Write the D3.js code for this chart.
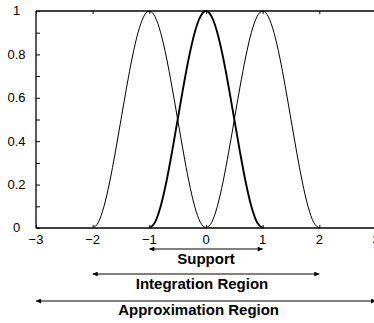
<!DOCTYPE html>
<html>
<head>
<meta charset="utf-8">
<script src="https://cdn.jsdelivr.net/npm/d3@7"></script>
<style>
  html, body { margin: 0; padding: 0; background: #fff; }
  svg { display: block; }
  text { font-family: "Liberation Sans", Arial, Helvetica, sans-serif; fill: #000; }
</style>
</head>
<body>
<svg id="chart" width="374" height="323"></svg>
<script>
// ---- data ----
const xTickValues = [-3, -2, -1, 0, 1, 2, 3];
const xTickLabels = ["\u22123", "\u22122", "\u22121", "0", "1", "2", "3"];
const yTickValues = [0, 0.2, 0.4, 0.6, 0.8, 1];
const yTickLabels = ["0", "0.2", "0.4", "0.6", "0.8", "1"];
const yMinorTicks = [0, 0.1, 0.2, 0.3, 0.4, 0.5, 0.6, 0.7, 0.8, 0.9, 1];

// one basis function shape, sampled at offsets from its centre
const shapeOffsets = [-1, -0.9, -0.8, -0.7, -0.6, -0.5, -0.4, -0.3, -0.2, -0.1, 0, 0.1, 0.2, 0.3, 0.4, 0.5, 0.6, 0.7, 0.8, 0.9, 1];
const shapeValues  = [0, 0.026, 0.1, 0.212, 0.35, 0.5, 0.65, 0.788, 0.9, 0.974, 1, 0.974, 0.9, 0.788, 0.65, 0.5, 0.35, 0.212, 0.1, 0.026, 0];
const curveCenters = [-1, 0, 1];
const curveBold    = [false, true, false];

// annotation regions
const regionNames  = ["Support", "Integration Region", "Approximation Region"];
const regionStarts = [-1, -2, -3];
const regionEnds   = [1, 2, 3];
const regionLabelX = [0, -0.07, -0.13];

// ---- drawing ----
const svg = d3.select("#chart");
const x = d3.scaleLinear().domain([-3, 3]).range([36, 376]);
const y = d3.scaleLinear().domain([0, 1]).range([228, 11]);

// curves
const line = d3.line()
  .x(d => x(d[0]))
  .y(d => y(d[1]))
  .curve(d3.curveMonotoneX);

curveCenters.forEach((c, i) => {
  const pts = shapeOffsets.map((o, j) => [c + o, shapeValues[j]]);
  svg.append("path")
    .attr("d", line(pts))
    .attr("fill", "none")
    .attr("stroke", "#000")
    .attr("stroke-width", curveBold[i] ? 1.9 : 1);
});

// frame: left axis, bottom axis, top border
svg.append("line").attr("x1", x(-3)).attr("x2", x(-3)).attr("y1", y(0)).attr("y2", y(1))
  .attr("stroke", "#000").attr("stroke-width", 1.3);
svg.append("line").attr("x1", x(-3)).attr("x2", x(3)).attr("y1", y(0)).attr("y2", y(0))
  .attr("stroke", "#000").attr("stroke-width", 1.6);
svg.append("line").attr("x1", x(-3)).attr("x2", x(3)).attr("y1", y(1)).attr("y2", y(1))
  .attr("stroke", "#000").attr("stroke-width", 1.4);

// left axis: inward minor ticks + centered labels
const yAxis = d3.axisRight(y).tickValues(yMinorTicks).tickSize(4).tickFormat("");
const ga = svg.append("g").attr("transform", `translate(${x(-3)},0)`).call(yAxis);
ga.select(".domain").remove();
ga.selectAll("line").attr("stroke", "#000").attr("stroke-width", 1);

yTickValues.forEach((v, i) => {
  svg.append("text")
    .attr("x", 16.5).attr("y", y(v) + 4.3)
    .attr("text-anchor", "middle")
    .attr("font-size", 13)
    .text(yTickLabels[i]);
});

// top ticks (downward) and bottom ticks (upward)
const topAxis = d3.axisBottom(x).tickValues(xTickValues).tickSize(3).tickFormat("");
const gt = svg.append("g").attr("transform", `translate(0,${y(1)})`).call(topAxis);
gt.select(".domain").remove();
gt.selectAll("line").attr("stroke", "#000");

const botAxis = d3.axisTop(x).tickValues(xTickValues).tickSize(3).tickFormat("");
const gb = svg.append("g").attr("transform", `translate(0,${y(0)})`).call(botAxis);
gb.select(".domain").remove();
gb.selectAll("line").attr("stroke", "#000");

xTickValues.forEach((v, i) => {
  svg.append("text")
    .attr("x", x(v)).attr("y", 243.5)
    .attr("text-anchor", "middle")
    .attr("font-size", 13)
    .text(xTickLabels[i]);
});

// arrows
svg.append("defs").append("marker")
  .attr("id", "ah")
  .attr("viewBox", "0 0 10 10")
  .attr("refX", 10).attr("refY", 5)
  .attr("markerUnits", "userSpaceOnUse")
  .attr("markerWidth", 7).attr("markerHeight", 5)
  .attr("orient", "auto-start-reverse")
  .append("path").attr("d", "M0,0 L10,5 L0,10 Z").attr("fill", "#000");

const arrowY = [249, 274, 301];
const labelY = [263.5, 288.5, 315];
regionNames.forEach((name, i) => {
  svg.append("line")
    .attr("x1", x(regionStarts[i])).attr("x2", x(regionEnds[i]))
    .attr("y1", arrowY[i]).attr("y2", arrowY[i])
    .attr("stroke", "#000").attr("stroke-width", 1)
    .attr("marker-start", "url(#ah)").attr("marker-end", "url(#ah)");
  svg.append("text")
    .attr("x", x(regionLabelX[i])).attr("y", labelY[i])
    .attr("text-anchor", "middle")
    .attr("font-size", 15)
    .attr("font-weight", "bold")
    .text(name);
});
</script>
</body>
</html>
